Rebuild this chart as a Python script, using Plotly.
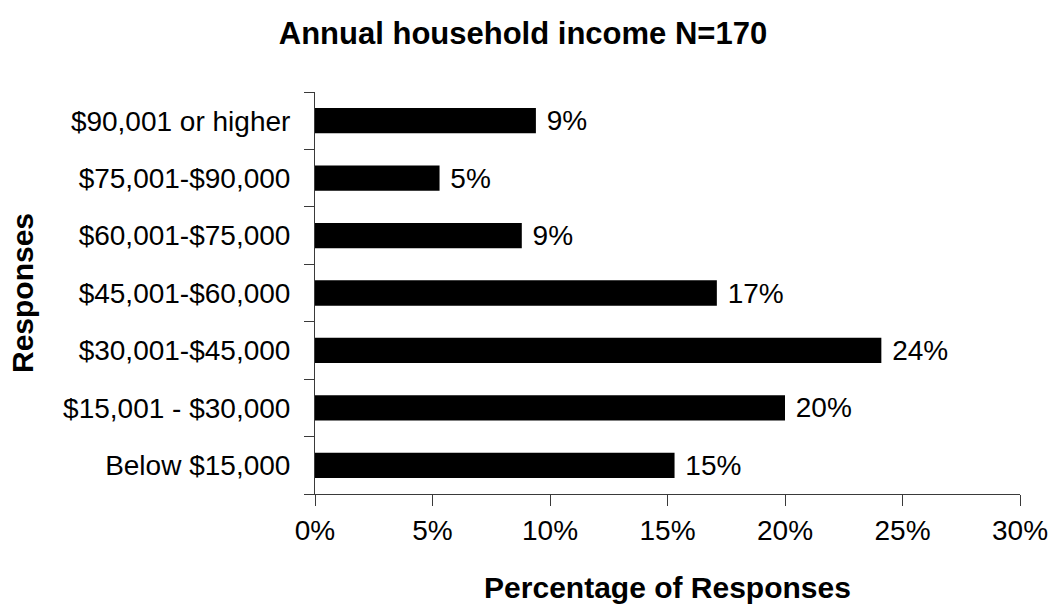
import plotly.graph_objects as go

# Income brackets, listed bottom to top as they appear on the axis
categories = [
    "Below $15,000",
    "$15,001 - $30,000",
    "$30,001-$45,000",
    "$45,001-$60,000",
    "$60,001-$75,000",
    "$75,001-$90,000",
    "$90,001 or higher",
]
# Share of responses (%) for each bracket
percentages = [15.3, 20.0, 24.1, 17.1, 8.8, 5.3, 9.4]

x_ticks = [0, 5, 10, 15, 20, 25, 30]

FONT = "Liberation Sans, Arial, sans-serif"
AXIS_COLOR = "#3a3a3a"

fig = go.Figure(
    go.Bar(
        y=categories,
        x=percentages,
        orientation="h",
        marker=dict(color="black", line=dict(width=0)),
        texttemplate="\u00a0%{x:.0f}%",
        textposition="outside",
        constraintext="none",
        cliponaxis=False,
        textfont=dict(family=FONT, size=28, color="black"),
        hoverinfo="skip",
    )
)

fig.update_layout(
    width=1055,
    height=607,
    margin=dict(l=315, r=35, t=92, b=113, autoexpand=False),
    paper_bgcolor="white",
    plot_bgcolor="white",
    bargap=0.56,
    showlegend=False,
    font=dict(family=FONT, color="black"),
    title=dict(
        text="<b>Annual household income N=170</b>",
        font=dict(family=FONT, size=31, color="black"),
        xref="paper",
        x=0.295,
        xanchor="center",
        yref="container",
        y=1 - 33 / 607,
        yanchor="middle",
    ),
)

fig.update_xaxes(
    range=[0, 30],
    tickvals=x_ticks,
    ticktext=[f"{v}%" for v in x_ticks],
    ticks="outside",
    ticklen=11,
    tickcolor=AXIS_COLOR,
    tickwidth=1,
    showline=True,
    linecolor=AXIS_COLOR,
    linewidth=1,
    showgrid=False,
    zeroline=False,
    tickfont=dict(family=FONT, size=28, color="black"),
    title=dict(
        text="<b>Percentage of Responses</b>",
        font=dict(family=FONT, size=30, color="black"),
        standoff=32,
    ),
    automargin=False,
)

fig.update_yaxes(
    type="category",
    categoryorder="array",
    categoryarray=categories,
    range=[-0.5, len(categories) - 0.5],
    tickson="boundaries",
    ticks="outside",
    ticklen=10,
    tickcolor=AXIS_COLOR,
    tickwidth=1,
    showline=True,
    linecolor=AXIS_COLOR,
    linewidth=1,
    showgrid=False,
    zeroline=False,
    tickfont=dict(family=FONT, size=28, color="black"),
    ticklabelstandoff=18,
    title=dict(
        text="<b>Responses</b>",
        font=dict(family=FONT, size=30, color="black"),
        standoff=20,
    ),
    automargin=False,
)

fig.write_html("out.html")
